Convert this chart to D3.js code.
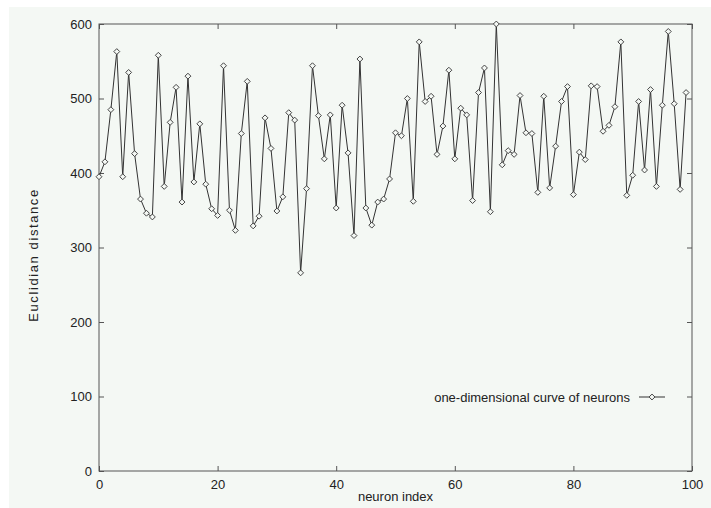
<!DOCTYPE html>
<html>
<head>
<meta charset="utf-8">
<script src="https://cdn.jsdelivr.net/npm/d3@7"></script>
<style>
  body { margin: 0; background: #fff; }
  text { font-family: "Liberation Sans", Arial, sans-serif; fill: #222; }
</style>
</head>
<body>
<div id="chart"></div>
<script>
// distances, neuron index 0..99
const distances = [
  395, 415, 485, 563, 395, 535, 426, 365, 346, 341,
  558, 382, 468, 515, 361, 530, 388, 466, 385, 352,
  343, 544, 350, 323, 453, 523, 329, 342, 474, 433,
  349, 368, 481, 471, 266, 379, 544, 477, 419, 478,
  353, 491, 427, 316, 553, 353, 330, 361, 365, 392,
  454, 450, 500, 362, 576, 496, 503, 425, 463, 538,
  419, 487, 478, 363, 508, 541, 348, 600, 411, 430,
  425, 504, 454, 453, 374, 503, 380, 436, 496, 516,
  371, 428, 418, 517, 516, 456, 464, 489, 576, 370,
  397, 496, 404, 512, 382, 491, 590, 493, 378, 508
];
const xTicks = [0, 20, 40, 60, 80, 100];
const yTicks = [0, 100, 200, 300, 400, 500, 600];
const seriesName = "one-dimensional curve of neurons";

const width = 711, height = 508;
const margin = {left: 99, right: 19, top: 24, bottom: 37};
const fontSize = 13;

const svg = d3.select("#chart").append("svg")
  .attr("width", width)
  .attr("height", height);

svg.append("rect")
  .attr("x", 9).attr("y", 7)
  .attr("width", width - 9).attr("height", height - 7)
  .attr("fill", "#f4f8f4");

const x = d3.scaleLinear().domain([0, 100]).range([margin.left, width - margin.right]);
const y = d3.scaleLinear().domain([0, 600]).range([height - margin.bottom, margin.top]);

const tickLen = 5;

// inward ticks on all four sides, like gnuplot's mirrored tics
const axisStyle = g => {
  g.select(".domain").remove();
  g.selectAll(".tick line").attr("stroke", "#555");
  g.selectAll(".tick text").attr("font-size", fontSize).attr("fill", "#222")
    .attr("font-family", "Liberation Sans, Arial, sans-serif");
};

svg.append("g")
  .attr("transform", `translate(0,${y(0)})`)
  .call(d3.axisBottom(x).tickValues(xTicks).tickSizeInner(-tickLen).tickPadding(9))
  .call(axisStyle);

svg.append("g")
  .attr("transform", `translate(0,${y(600)})`)
  .call(d3.axisTop(x).tickValues(xTicks).tickSizeInner(-tickLen).tickFormat(""))
  .call(axisStyle);

svg.append("g")
  .attr("transform", `translate(${x(0)},0)`)
  .call(d3.axisLeft(y).tickValues(yTicks).tickSizeInner(-tickLen).tickPadding(7))
  .call(axisStyle);

svg.append("g")
  .attr("transform", `translate(${x(100)},0)`)
  .call(d3.axisRight(y).tickValues(yTicks).tickSizeInner(-tickLen).tickFormat(""))
  .call(axisStyle);

svg.append("rect")
  .attr("x", x(0)).attr("y", y(600))
  .attr("width", x(100) - x(0)).attr("height", y(0) - y(600))
  .attr("fill", "none")
  .attr("stroke", "#555")
  .attr("stroke-width", 1);

svg.append("text")
  .attr("x", (x(0) + x(100)) / 2)
  .attr("y", 501)
  .attr("text-anchor", "middle")
  .attr("font-size", fontSize)
  .text("neuron index");

svg.append("text")
  .attr("transform", `translate(38,255) rotate(-90)`)
  .attr("text-anchor", "middle")
  .attr("font-size", fontSize)
  .attr("letter-spacing", 1.6)
  .text("Euclidian distance");

const line = d3.line()
  .x((d, i) => x(i))
  .y(d => y(d));

svg.append("path")
  .datum(distances)
  .attr("fill", "none")
  .attr("stroke", "#333")
  .attr("stroke-width", 1)
  .attr("d", line);

const diamond = d3.symbol().type(d3.symbolDiamond2).size(22);

svg.append("g")
  .selectAll("path")
  .data(distances)
  .enter().append("path")
  .attr("transform", (d, i) => `translate(${x(i)},${y(d)})`)
  .attr("d", diamond)
  .attr("fill", "#f4f8f4")
  .attr("stroke", "#444")
  .attr("stroke-width", 1);

// legend
const legend = svg.append("g").attr("transform", "translate(0,397)");
legend.append("text")
  .attr("x", 630)
  .attr("y", 4.5)
  .attr("text-anchor", "end")
  .attr("font-size", fontSize)
  .text(seriesName);
legend.append("line")
  .attr("x1", 639).attr("x2", 665)
  .attr("y1", 0).attr("y2", 0)
  .attr("stroke", "#333");
legend.append("path")
  .attr("transform", "translate(652,0)")
  .attr("d", diamond)
  .attr("fill", "#f4f8f4")
  .attr("stroke", "#444");
</script>
</body>
</html>
